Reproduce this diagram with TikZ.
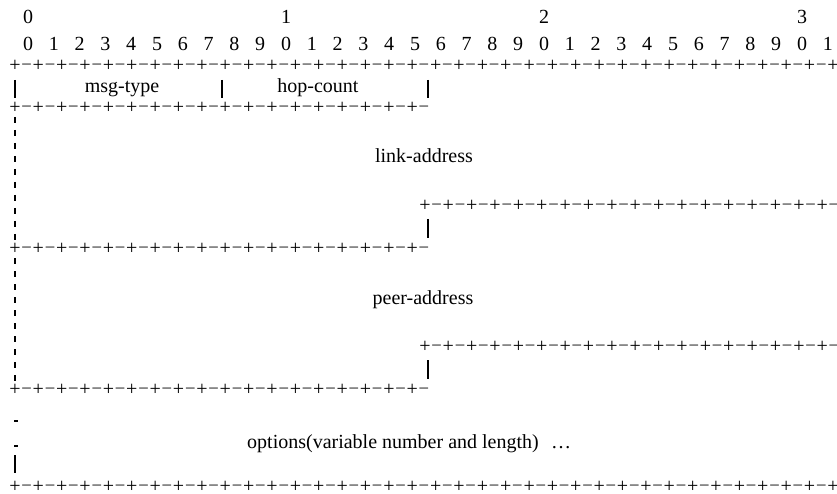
\documentclass[tikz,border=0pt]{standalone}
\usepackage{fontspec}
\setmainfont{Liberation Serif}
\usetikzlibrary{positioning}

\tikzset{
  lbl/.style={inner sep=0pt, font=\fontsize{20}{24}\selectfont},
  word/.style={lbl, anchor=base},
  dash sign/.style={inner sep=0pt, font=\fontsize{17}{20}\selectfont},
  bar/.style={line width=1.8pt},
  ticks/.style={line width=1.6pt, dash pattern=on 6pt off 7pt},
}
% one row of +-+- : name, x, y, number of +, number of -
\newcommand{\plusrow}[5]{%
  \foreach \i in {1,...,#4}
    \node[lbl] (#1p\i) at ({#2+(\i-1)*23.37},#3) {+};
  \foreach \i in {1,...,#5}
    \node[dash sign] (#1m\i) at ({#2+(\i-0.5)*23.37},#3) {–};
}

\begin{document}
\begin{tikzpicture}[x=1pt,y=-1pt]
\useasboundingbox (0,0) rectangle (837,494);

% bit numbers
\foreach \t in {0,...,3}
  \node[lbl] (ten\t) at (28+258*\t,17) {\t};
\foreach \b in {0,...,31}{
  \pgfmathtruncatemacro\d{mod(\b,10)}
  \node[lbl] (bit\b) at (28+25.8*\b,44) {\d};
}

% first word
\plusrow{top}{15}{66}{36}{35}
\node[word] (msg) at (122,93) {msg-type};
\node[word] (hop) at (318,93) {hop-count};
\draw[bar] (15,80) -- (15,98);
\draw[bar] (222,80) -- (222,98);
\draw[bar] (428,80) -- (428,98);
\plusrow{mid}{15}{108}{18}{18}

% link-address
\draw[ticks] (15,117) -- (15,244);
\node[word] (link) at (424,163) {link-address};
\plusrow{linkr}{425}{206}{18}{18}
\draw[bar] (428,219) -- (428,238);
\plusrow{linkl}{15}{249}{18}{18}

% peer-address
\draw[ticks] (15,258) -- (15,385);
\node[word] (peer) at (423,304) {peer-address};
\plusrow{peerr}{425}{347}{18}{18}
\draw[bar] (428,360) -- (428,379);
\plusrow{peerl}{15}{390}{18}{18}

% options
\draw[bar] (14,421) -- (18,421);
\draw[bar] (14,446) -- (18,446);
\draw[bar] (15,455) -- (15,473);
\node[word, anchor=base west] (opt) at (247,448) {options(variable number and length)};
\node[word] (dots) at (561,448) {…};
\plusrow{bot}{15}{487}{36}{35}
\end{tikzpicture}
\end{document}
